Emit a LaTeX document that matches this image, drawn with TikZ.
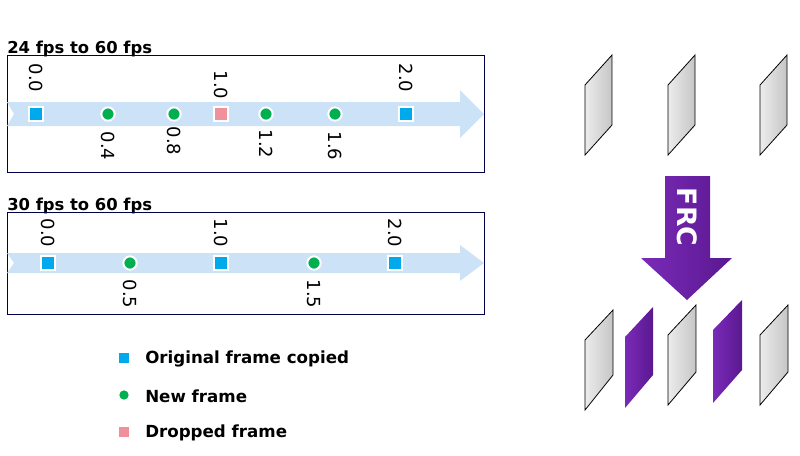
\documentclass[tikz,border=0pt]{standalone}
\usepackage{fontspec}
\setmainfont{DejaVu Sans}
\definecolor{bandc}{HTML}{CCE3F7}
\definecolor{origc}{HTML}{00A8EC}
\definecolor{newc}{HTML}{00B050}
\definecolor{dropc}{HTML}{F0909A}
\definecolor{purA}{HTML}{7A2BB8}
\definecolor{purB}{HTML}{5A1890}
\begin{document}
\begin{tikzpicture}[x=0.75pt,y=-0.75pt,
 band/.style={fill=bandc,draw=none},
 box/.style={draw=blue!30!black,line width=0.6pt},
 orig/.style={draw=white,line width=1.5pt,fill=origc,minimum size=10pt,inner sep=0pt},
 newf/.style={circle,draw=white,line width=1.5pt,fill=newc,minimum size=10pt,inner sep=0pt},
 drop/.style={draw=white,line width=1.5pt,fill=dropc,minimum size=10pt,inner sep=0pt},
 lab/.style={rotate=-90,font=\fontsize{13.5}{15}\selectfont},
 ttl/.style={font=\bfseries\fontsize{12.3}{14}\selectfont,anchor=base west,inner sep=0},
 leg/.style={font=\bfseries\fontsize{12.5}{14}\selectfont,anchor=west,inner sep=0},
 gframe/.style={draw=black,line width=0.6pt,left color=gray!15,right color=gray!45},
 pframe/.style={draw=none,left color=purA,right color=purB}]
\useasboundingbox (0,0) rectangle (800,455);
% box 1
\node[ttl] (t1) at (7,53) {24 fps to 60 fps};
\draw[box] (7,55) rectangle (484,172);
\fill[band] (7,102) -- (460,102) -- (460,90) -- (484,114) -- (460,138) -- (460,126) -- (7,126) -- (14,114) -- cycle;
\node[orig] (a0) at (36,114) {};
\node[newf] (a1) at (108,114) {};
\node[newf] (a2) at (174,114) {};
\node[drop] (a3) at (221,114) {};
\node[newf] (a4) at (266,114) {};
\node[newf] (a5) at (335,114) {};
\node[orig] (a6) at (406,114) {};
\node[lab] (l0) at (36,78) {0.0};
\node[lab] (l1) at (108,146) {0.4};
\node[lab] (l2) at (174,141) {0.8};
\node[lab] (l3) at (221,85) {1.0};
\node[lab] (l4) at (266,144) {1.2};
\node[lab] (l5) at (335,146) {1.6};
\node[lab] (l6) at (406,78) {2.0};
% box 2
\node[ttl] (t2) at (7,210) {30 fps to 60 fps};
\draw[box] (7,212) rectangle (484,314);
\fill[band] (7,253) -- (460,253) -- (460,245) -- (484,263) -- (460,281) -- (460,273) -- (7,273) -- (14,263) -- cycle;
\node[orig] (b0) at (48,263) {};
\node[newf] (b1) at (130,263) {};
\node[orig] (b2) at (221,263) {};
\node[newf] (b3) at (314,263) {};
\node[orig] (b4) at (395,263) {};
\node[lab] (m0) at (48,233) {0.0};
\node[lab] (m1) at (130,294) {0.5};
\node[lab] (m2) at (221,233) {1.0};
\node[lab] (m3) at (314,294) {1.5};
\node[lab] (m4) at (395,233) {2.0};
% legend
\node[orig,draw=none,minimum size=7pt] (k1) at (124,358) {};
\node[leg] (k1t) at (145,359) {Original frame copied};
\node[newf,draw=none,minimum size=7pt] (k2) at (124,395) {};
\node[leg] (k2t) at (145,396) {New frame};
\node[drop,draw=none,minimum size=7pt] (k3) at (124,432) {};
\node[leg] (k3t) at (145,433) {Dropped frame};
% top frames
\foreach \x in {585,668,760}{
 \path[gframe] (\x,85) -- (\x+27,55) -- (\x+27,125) -- (\x,155) -- cycle;}
% FRC arrow
\shade[left color=purA,right color=purB]
 (665,176) -- (710,176) -- (710,258) -- (732,258) -- (687,300) -- (641,258) -- (665,258) -- cycle;
\node[rotate=-90,text=white,font=\bfseries\fontsize{20}{22}\selectfont] (frc) at (687,217) {FRC};
% bottom frames
\path[gframe] (585,340) -- (613,310) -- (613,375) -- (585,410) -- cycle;
\path[pframe] (625,337) -- (653,307) -- (653,375) -- (625,408) -- cycle;
\path[gframe] (668,335) -- (696,305) -- (696,372) -- (668,405) -- cycle;
\path[pframe] (713,330) -- (742,300) -- (742,370) -- (713,403) -- cycle;
\path[gframe] (760,335) -- (788,305) -- (788,372) -- (760,405) -- cycle;
\end{tikzpicture}
\end{document}
